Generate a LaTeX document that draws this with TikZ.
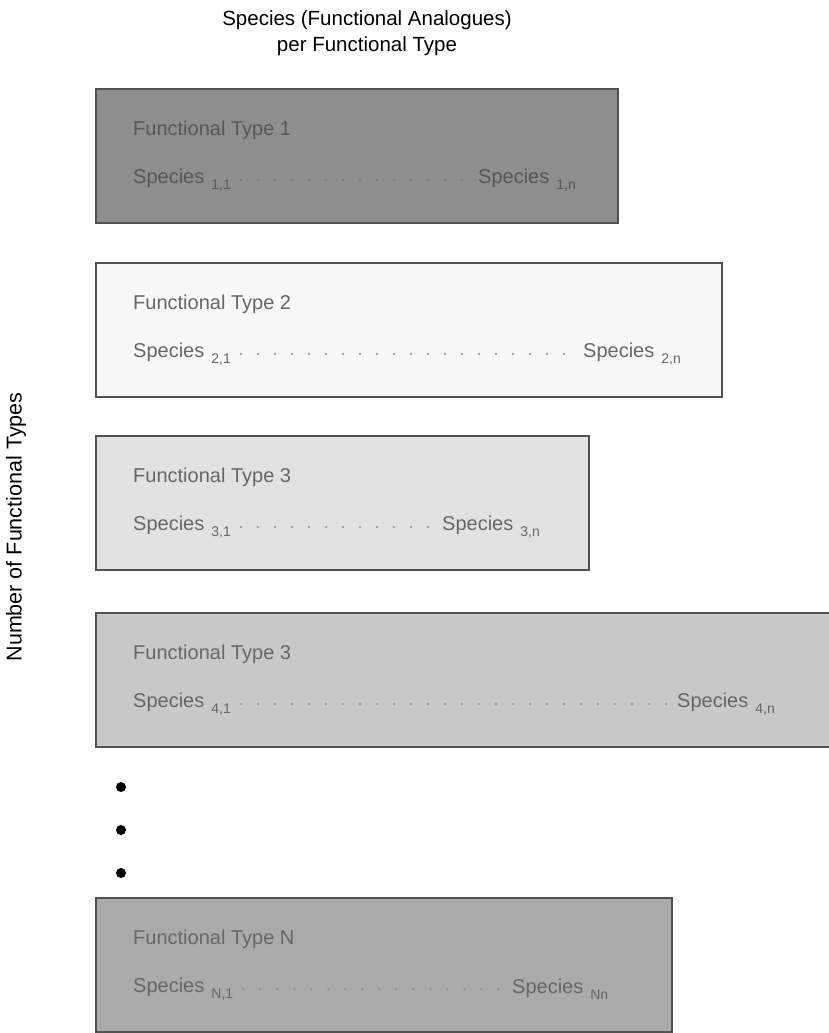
\documentclass[tikz,border=0pt]{standalone}
\usepackage{fontspec}
\setmainfont{Liberation Sans}
\usetikzlibrary{positioning}
\definecolor{ftone}{HTML}{8E8E8E}
\definecolor{fttwo}{HTML}{F8F8F8}
\definecolor{ftthree}{HTML}{E2E2E2}
\definecolor{ftfour}{HTML}{C8C8C8}
\definecolor{ftlast}{HTML}{AAAAAA}
\newcommand{\sptag}[1]{Species\hspace{0.35em}\raisebox{-0.3em}{\fontsize{14}{15}\selectfont #1}}

\begin{document}
\begin{tikzpicture}[
		x=1pt, y=-1pt,
		ftype/.style={draw=black!68, line width=1.6pt, minimum height=134pt, anchor=north west, inner sep=0pt},
		lbl/.style={anchor=west, text=black!60, font=\fontsize{20}{24}\selectfont, inner sep=0pt},
		link/.style={draw=black!45, line width=2.4pt, line cap=round, dash pattern=on 0pt off 17pt, shorten <=10pt, shorten >=10pt},
		bullet/.style={circle, fill=black, inner sep=0pt, minimum size=10pt},
		head/.style={font=\fontsize{20.5}{26.5}\selectfont, inner sep=0pt}
	]
		\useasboundingbox (0,0) rectangle (828,1033);
		\node[head, align=center] (title) at (367,33) {Species (Functional Analogues)\\per Functional Type};
		\node[head, font=\fontsize{21.5}{26}\selectfont, rotate=90] (axis) at (16,527) {Number of Functional Types};

		\node[ftype, fill=ftone, minimum width=522pt] (ft1) at (95,88) {};
		\node[lbl, text=black!66] (ft1t) at (133,130) {Functional Type 1};
		\node[lbl, text=black!66] (sp11) at (133,180) {\sptag{1,1}};
		\node[lbl, text=black!66] (sp1n) at (478,180) {\sptag{1,n}};
		\draw[link, draw=black!52] (sp11.east) -- (sp1n.west);

		\node[ftype, fill=fttwo, minimum width=626pt] (ft2) at (95,262) {};
		\node[lbl] (ft2t) at (133,304) {Functional Type 2};
		\node[lbl] (sp21) at (133,354) {\sptag{2,1}};
		\node[lbl] (sp2n) at (583,354) {\sptag{2,n}};
		\draw[link] (sp21.east) -- (sp2n.west);

		\node[ftype, fill=ftthree, minimum width=493pt] (ft3) at (95,435) {};
		\node[lbl] (ft3t) at (133,477) {Functional Type 3};
		\node[lbl] (sp31) at (133,527) {\sptag{3,1}};
		\node[lbl] (sp3n) at (442,527) {\sptag{3,n}};
		\draw[link] (sp31.east) -- (sp3n.west);

		\node[ftype, fill=ftfour, minimum width=745pt] (ft4) at (95,612) {};
		\node[lbl] (ft4t) at (133,654) {Functional Type 3};
		\node[lbl] (sp41) at (133,704) {\sptag{4,1}};
		\node[lbl] (sp4n) at (677,704) {\sptag{4,n}};
		\draw[link] (sp41.east) -- (sp4n.west);

		\node[bullet] (dot1) at (121,787) {};
		\node[bullet] (dot2) at (121,830) {};
		\node[bullet] (dot3) at (121,873) {};

		\node[ftype, fill=ftlast, minimum width=576pt] (ftN) at (95,897) {};
		\node[lbl] (ftNt) at (133,939) {Functional Type N};
		\node[lbl] (spN1) at (133,989) {\sptag{N,1}};
		\node[lbl] (spNn) at (512,989) {\sptag{Nn}};
		\draw[link] (spN1.east) -- (spNn.west);
	\end{tikzpicture}
\end{document}
